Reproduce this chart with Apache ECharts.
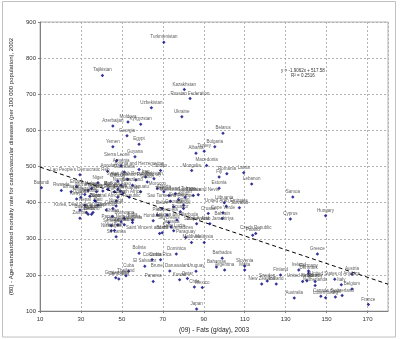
<!DOCTYPE html>
<html><head><meta charset="utf-8">
<script src="https://cdn.jsdelivr.net/npm/echarts@6/dist/echarts.min.js"></script>
<style>html,body{margin:0;padding:0;background:#fff}#c{width:400px;height:339px}</style>
</head><body><div id="c"></div>
<script>
const countries = ["Turkmenistan","Tajikistan","Kazakhstan","Russian Federation","Uzbekistan","Ukraine","Azerbaijan","Moldova","Kyrgyzstan","Georgia","Yemen","Egypt","Guyana","Sierra Leone","Armenia","Angola","Bosnia and Herzegovina","Sudan","Lao People's Democratic Rep","Niger","Burundi","Rwanda","Ethiopia","Eritrea","Madagascar","Mozambique","Malawi","Chad","Guinea-Bissau","Mali","Côte d'Ivoire","Burkina Faso","Congo","Kenya","Uganda","Tanzania","Togo","Benin","Nepal","Haiti","Korea, Dem People's Rep","Bangladesh","Myanmar","Cameroon","Gambia","Nigeria","Zambia","Liberia","Lesotho","Ghana","Guinea","Central African Republic","South Africa","Philippines","Zimbabwe","Senegal","Nicaragua","Viet Nam","Sri Lanka","India","Botswana","Mauritania","Djibouti","Syrian Arab Republic","Iran (Islamic Republic of)","Iraq","Pakistan","Gabon","Namibia","Swaziland","Morocco","Algeria","Vanuatu","Solomon Islands","Mauritius","Trinidad and Tobago","Jordan","Tunisia","Saint Kitts and Nevis","Sao Tome and Principe","Oman","Suriname","Belize","Grenada","Kiribati","Peru","Venezuela","Ecuador","Antigua and Barbuda","Honduras","Indonesia","Papua New Guinea","Saudi Arabia","Libyan Arab Jamahiriya","Croatia","Cape Verde","Bahrain","United Arab Emirates","Slovakia","Lithuania","Estonia","Fiji","Romania","Latvia","Lebanon","Mongolia","Macedonia","Albania","Turkey","Bulgaria","Belarus","Seychelles","Jamaica","Saint Vincent and the Grenadines","Brazil","Saint Lucia","Paraguay","Malaysia","Maldives","Poland","Czech Republic","Dominica","Bolivia","Colombia","Costa Rica","El Salvador","Brunei Darussalam","Uruguay","Kuwait","Qatar","Panama","Cuba","Thailand","Guatemala","Cambodia","Chile","Mexico","Japan","Barbados","Bahamas","Argentina","Slovenia","Malta","New Zealand","Finland","Iceland","Sweden","Ireland","Germany","Denmark","United Kingdom","Israel","Norway","Netherlands","United States of America","Italy","Australia","Austria","France","Belgium","Switzerland","Canada","Luxembourg","Spain","Greece","Cyprus","Hungary","Samoa"];
const fats = [70.5,40.5,80.5,83.3,64.4,79.3,45.6,53,59.2,52.5,45.6,58.4,56.4,47.5,49.6,43,58.4,68.9,29.5,38.3,10.7,20.4,25.2,27.9,31.9,33.5,35.2,37.6,40.7,43.2,46.4,48,49.3,27.9,30,34.3,36.7,37.1,31.9,38.3,29.5,32.7,35.9,42.4,45.6,47.2,29.5,33.5,35.2,45.3,48,47.2,53.6,48,51.2,44.8,44.8,46.4,47.2,55.2,51.2,51.2,48,52.8,56.8,61.6,65.7,62.4,49.6,55.2,67.3,70.5,59.2,50.5,72.9,76.1,80.9,84.9,87.3,73.7,80.1,77.7,69.7,75.3,80.1,67.3,72.1,78.5,76.9,65.3,55.2,49.6,86.5,93,92.2,99.4,99,101,107.4,100,97.5,97.5,101.3,109.5,113.4,84.1,91.4,86.2,90.2,95.4,99.4,72.9,74,68.4,69.7,75.3,81.2,90.2,84,113.9,115.4,76.6,58.4,64.8,68.9,61.2,73.4,86.2,78.2,82,65.3,53.3,52,47,48.5,85.4,89.3,86.5,99,96.2,100.2,110,110,118.3,127.5,125.4,121,136.4,141.2,141.2,138.3,140.4,144.4,144.4,154,157.2,134.2,162.4,170.4,162.4,157.6,147.2,149.5,154.3,145.5,132.3,149.5,133.5];
const cvd = [844,752,713,688,663,638,612,623,617,585,555,562,527,517,502,487,492,489,477,455,441,434,430,444,423,434,439,430,432,437,430,437,432,410,415,418,406,404,393,393,380,373,373,380,384,391,357,368,368,362,415,405,415,338,339,336,322,323,306,352,357,485,459,465,463,471,466,457,448,448,439,430,430,426,420,425,415,420,422,404,393,408,384,389,384,366,366,375,352,350,345,347,342,342,370,372,356,390,386,400,440,471,480,483,452,489,503,537,542,555,592,345,333,315,317,322,304,290,290,310,315,258,260,242,242,224,211,210,187,190,182,210,198,192,189,167,165,106,246,222,214,225,214,175,200,175,183,214,211,205,182,184,182,171,188,173,136,202,118,161,143,141,137,139,258,355,364,416];
const xTicks = [10,30,50,70,90,110,130,150,170];
const yTicks = [100,200,300,400,500,600,700,800,900];
const trendSlope = -1.9062;
const trendIntercept = 517.58;
const trendR2 = 0.2516;

const pts = countries.map((n,i)=>({name:n, value:[fats[i], cvd[i]]}));
const xMin = 10, xMax = 180;
const trend = [[xMin, trendIntercept + trendSlope*xMin],[xMax, trendIntercept + trendSlope*xMax]];
const FF = '"Liberation Sans", Arial, sans-serif';

const chart = echarts.init(document.getElementById('c'), null, {renderer:'canvas'});
chart.setOption({
  backgroundColor:'#fff',
  animation:false,
  grid:{left:34.5, right:12, top:22, bottom:25.7, show:true, borderColor:'#b0b0b0', borderWidth:1, backgroundColor:'#fff'},
  xAxis:{type:'value', min:xMin, max:xMax, interval:20,
    name:'(09) - Fats (g/day), 2003', nameLocation:'middle', nameGap:15,
    nameTextStyle:{fontFamily:FF, fontSize:6.5, color:'#222'},
    axisLine:{show:true, lineStyle:{color:'#808080'}},
    axisTick:{show:true, length:2, lineStyle:{color:'#808080'}},
    axisLabel:{fontFamily:FF, fontSize:6, color:'#333', margin:5, showMaxLabel:false,
      formatter:v=> xTicks.includes(v)? String(v):''},
    splitLine:{show:true, lineStyle:{color:'#b4b4b4', type:[2,2], width:1}}},
  yAxis:{type:'value', min:100, max:900, interval:100,
    name:'(80) - Age-standardized mortality rate for cardiovascular diseases (per 100 000 population), 2002',
    nameLocation:'middle', nameGap:26, nameRotate:90,
    nameTextStyle:{fontFamily:FF, fontSize:6, color:'#222'},
    axisLine:{show:true, lineStyle:{color:'#808080'}},
    axisTick:{show:true, length:2, lineStyle:{color:'#808080'}},
    axisLabel:{fontFamily:FF, fontSize:6, color:'#333', margin:4,
      formatter:v=> yTicks.includes(v)? String(v):''},
    splitLine:{show:true, lineStyle:{color:'#b4b4b4', type:[2,2], width:1}}},
  series:[
    {type:'line', data:trend, symbol:'none', silent:true, z:1,
     lineStyle:{color:'#000', width:1, type:[4,3]}},
    {type:'scatter', data:pts, symbol:'diamond', symbolSize:3.5, z:3,
     itemStyle:{color:'#000080'},
     label:{show:true, position:'top', distance:1, formatter:p=>p.name,
       fontFamily:FF, fontSize:4.5, color:'#333'}}
  ],
  graphic:[
    {type:'rect', shape:{x:2.5, y:1.5, width:393, height:335.5}, style:{fill:'none', stroke:'#c0c0c0', lineWidth:1}, z:-1},
    {type:'text', left:281, top:68, style:{text:'y = ' + trendSlope.toFixed(4) + 'x + ' + trendIntercept.toFixed(2), fontFamily:FF, fontSize:4.5, fill:'#333'}},
    {type:'text', left:291, top:73, style:{text:'R² = ' + trendR2.toFixed(4), fontFamily:FF, fontSize:4.5, fill:'#333'}}
  ]
});
</script></body></html>
